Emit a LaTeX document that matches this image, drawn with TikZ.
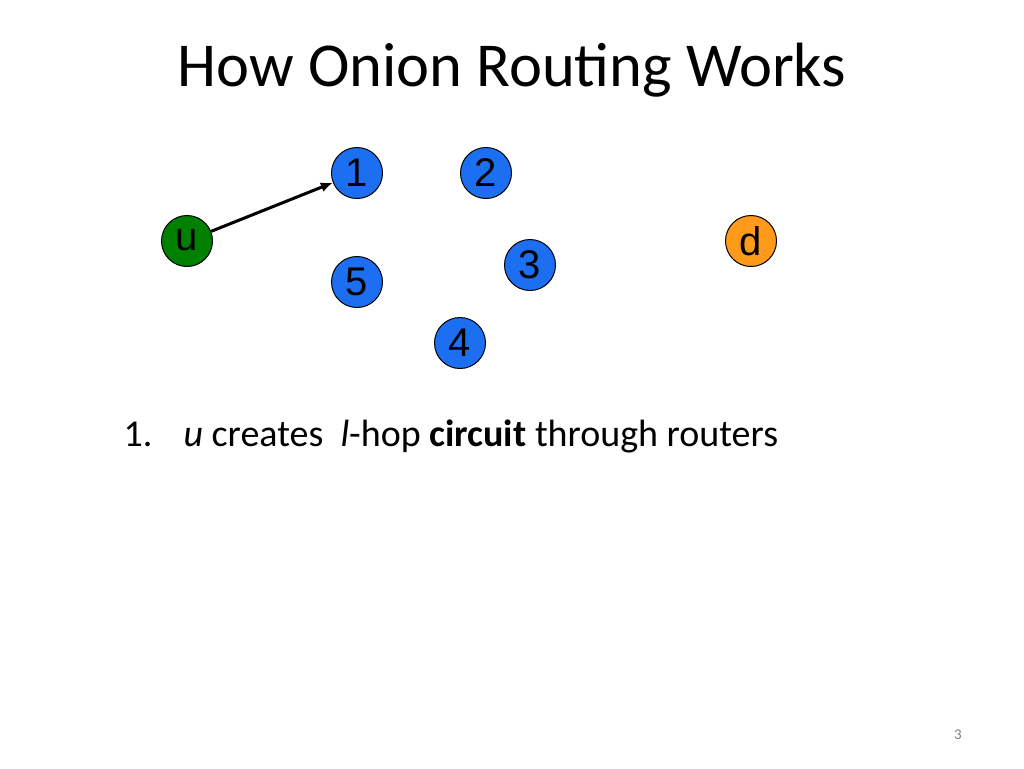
\documentclass[tikz,border=0pt]{standalone}
\usepackage{fontspec}
\setmainfont{Carlito}
\newfontfamily\arialf{Liberation Sans}
\usetikzlibrary{arrows.meta}
\begin{document}
\begin{tikzpicture}[x=1pt,y=-1pt,
  nd/.style={circle,draw=black,line width=1pt,minimum size=51pt,inner sep=0pt,font=\arialf\fontsize{40}{40}\selectfont},
  router/.style={nd,fill=rblue}]
\definecolor{rblue}{HTML}{1D6FF2}
\definecolor{ugreen}{HTML}{008000}
\definecolor{dorange}{HTML}{FF9A1A}
\useasboundingbox (0,0) rectangle (1024,768);
\node[font=\fontsize{62.5}{62.5}\selectfont] (title) at (512,70) {How Onion Routing Works};
\node[router] (n1) at (357,173) {1};
\node[router] (n2) at (486,173) {2};
\node[router] (n3) at (530,265) {3};
\node[router] (n5) at (357,282) {5};
\node[router] (n4) at (460,343) {4};
\node[nd,fill=ugreen,text depth=0pt] (u) at (187,241) {\raisebox{2pt}{u}};
\node[nd,fill=dorange] (d) at (751,241) {d};
\draw[line width=3pt,-{Latex[length=12pt,width=10pt]}] (u) -- (n1);
\node[anchor=base west,font=\fontsize{38}{38}\selectfont] (t1) at (120,446) {1.};
\node[anchor=base west,font=\fontsize{38}{38}\selectfont] (t2) at (180,446) {\textit{u} creates\ \ \textit{l}-hop \textbf{circuit} through routers};
\node[font=\fontsize{15}{15}\selectfont,text=gray] (pg) at (958,735) {3};
\end{tikzpicture}
\end{document}
